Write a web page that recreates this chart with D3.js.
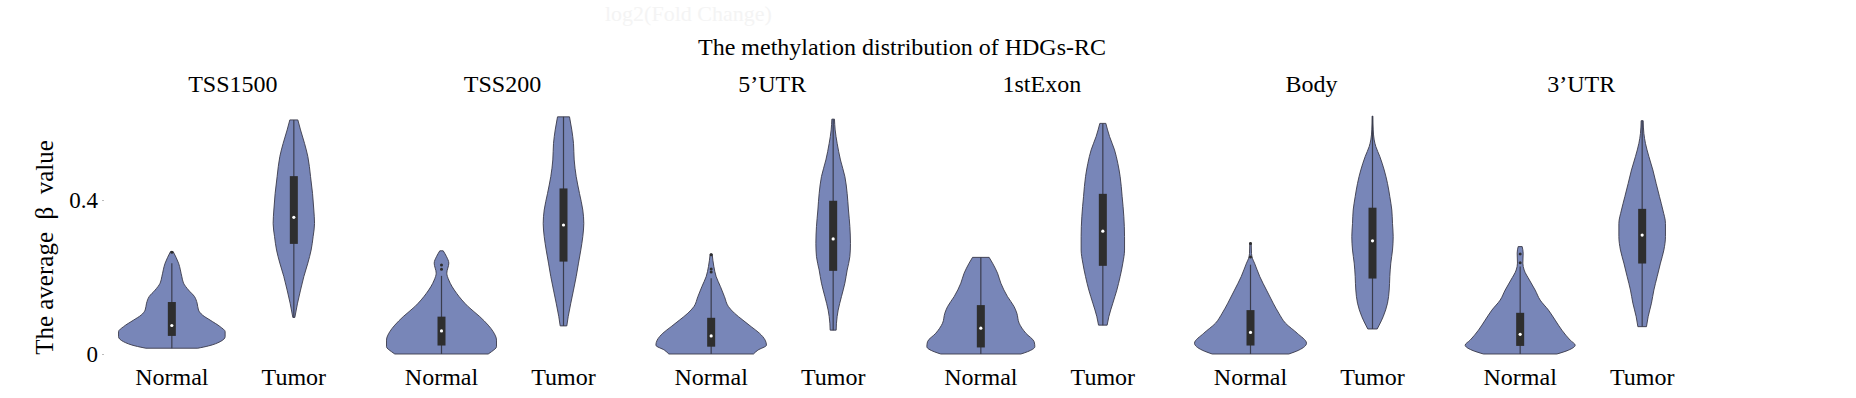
<!DOCTYPE html>
<html>
<head>
<meta charset="utf-8">
<script src="https://cdn.jsdelivr.net/npm/d3@7"></script>
<style>
  html, body { margin: 0; padding: 0; background: #fff; }
  svg { display: block; font-family: "Liberation Serif", "Times New Roman", serif; }
</style>
</head>
<body>
<div id="chart"></div>
<script>
const width = 1856;
const height = 398;

const regions = ["TSS1500", "TSS200", "5’UTR", "1stExon", "Body", "3’UTR"];
const groups = ["Normal", "Tumor"];
const yTicks = [0, 0.4];

// density profiles: [beta value, density]
const normalProfiles = [
    [[0.266,0.13],[0.236,0.67],[0.201,1.0],[0.184,1.17],[0.166,1.67],[0.149,2.27],[0.132,2.53],[0.114,2.67],[0.101,3.07],[0.088,3.83],[0.071,4.83],[0.058,5.33],[0.045,5.33],[0.032,4.83],[0.021,3.67],[0.015,2.6]],
    [[0.268,0.17],[0.253,0.5],[0.236,0.73],[0.210,0.53],[0.192,0.73],[0.158,1.5],[0.123,2.67],[0.097,3.83],[0.075,4.67],[0.058,5.17],[0.036,5.5],[0.019,5.5],[0.006,5.0],[0.0,4.67]],
    [[0.260,0.1],[0.227,0.27],[0.201,0.5],[0.175,0.93],[0.149,1.33],[0.123,1.73],[0.106,2.33],[0.088,3.17],[0.071,4.0],[0.054,4.83],[0.036,5.4],[0.023,5.53],[0.010,4.67],[0.0,4.23]],
    [[0.251,0.83],[0.236,1.17],[0.210,1.67],[0.184,2.0],[0.149,2.67],[0.123,3.33],[0.106,3.6],[0.080,3.83],[0.054,4.5],[0.032,5.33],[0.019,5.4],[0.006,4.67],[0.0,4.0]],
    [[0.289,0.07],[0.261,0.1],[0.248,0.2],[0.236,0.4],[0.201,0.93],[0.166,1.6],[0.132,2.27],[0.106,2.83],[0.080,3.5],[0.054,4.67],[0.028,5.6],[0.010,4.83],[0.0,3.83]],
    [[0.279,0.2],[0.262,0.3],[0.236,0.27],[0.218,0.4],[0.192,0.93],[0.166,1.5],[0.140,2.0],[0.114,2.83],[0.088,3.5],[0.062,4.17],[0.036,5.0],[0.023,5.5],[0.010,4.83],[0.0,3.67]]
];
const tumorProfiles = [
    [[0.608,0.4],[0.582,0.67],[0.547,1.07],[0.513,1.4],[0.461,1.67],[0.417,1.87],[0.374,2.0],[0.339,2.07],[0.305,1.93],[0.270,1.73],[0.236,1.4],[0.201,1.0],[0.166,0.67],[0.132,0.37],[0.095,0.1]],
    [[0.616,0.6],[0.582,0.83],[0.547,1.0],[0.504,1.07],[0.461,1.27],[0.417,1.6],[0.374,1.93],[0.339,2.03],[0.305,1.93],[0.270,1.73],[0.236,1.5],[0.201,1.27],[0.166,1.0],[0.132,0.73],[0.097,0.47],[0.073,0.33]],
    [[0.610,0.13],[0.582,0.2],[0.547,0.4],[0.504,0.73],[0.461,1.17],[0.417,1.4],[0.374,1.53],[0.331,1.67],[0.287,1.73],[0.253,1.67],[0.218,1.4],[0.184,1.17],[0.149,0.83],[0.114,0.5],[0.080,0.33],[0.062,0.3]],
    [[0.599,0.3],[0.565,0.67],[0.530,1.17],[0.495,1.5],[0.461,1.73],[0.409,1.93],[0.357,2.1],[0.305,2.17],[0.270,2.17],[0.236,2.0],[0.201,1.73],[0.166,1.4],[0.132,1.0],[0.097,0.6],[0.075,0.43]],
    [[0.618,0.03],[0.582,0.07],[0.556,0.17],[0.539,0.33],[0.513,0.73],[0.478,1.17],[0.443,1.5],[0.409,1.73],[0.374,1.93],[0.339,2.0],[0.305,2.07],[0.270,2.0],[0.236,1.83],[0.201,1.73],[0.166,1.67],[0.132,1.5],[0.097,1.07],[0.075,0.67],[0.065,0.47]],
    [[0.606,0.1],[0.573,0.17],[0.547,0.33],[0.513,0.67],[0.478,1.07],[0.443,1.4],[0.409,1.73],[0.374,2.07],[0.339,2.33],[0.305,2.33],[0.270,2.17],[0.236,1.83],[0.201,1.5],[0.166,1.17],[0.132,0.93],[0.097,0.6],[0.071,0.43]]
];

// inner box: [q1, median, q3]
const normalBoxes = [[0.047,0.074,0.135],[0.022,0.060,0.097],[0.019,0.047,0.094],[0.017,0.067,0.127],[0.022,0.056,0.114],[0.021,0.051,0.107]];
const tumorBoxes = [[0.286,0.355,0.462],[0.240,0.335,0.430],[0.216,0.299,0.398],[0.229,0.319,0.416],[0.196,0.294,0.380],[0.235,0.309,0.377]];
// whiskers: [low, high]
const normalWhiskers = [[0.015,0.236],[0,0.203],[0,0.197],[0,0.251],[0,0.232],[0,0.227]];
const tumorWhiskers = [[0.095,0.608],[0.073,0.616],[0.062,0.610],[0.075,0.599],[0.065,0.618],[0.071,0.606]];
const normalOutliers = [[0.264],[0.231,0.220],[0.258,0.221,0.213],[],[0.287,0.252],[0.260,0.237]];
const tumorOutliers = [[],[],[],[],[],[]];

const violinFill = "#7886b8";
const darkGray = "#2e2e2e";

const svg = d3.select("#chart").append("svg")
    .attr("width", width)
    .attr("height", height);

// scales
const x = d3.scaleBand().domain(regions).range([98, 1716]);
const xGroup = d3.scalePoint().domain(groups).range([-61, 61]);
const y = d3.scaleLinear().domain([0, 0.4]).range([354, 200]);
const w = d3.scaleLinear().domain([0, 1]).range([0, 10]);

// faint leftover text near the top edge
svg.append("text")
    .attr("x", 605).attr("y", 21)
    .attr("font-size", 22)
    .attr("fill", "#f4f4f4")
    .text("log2(Fold Change)");

// title
svg.append("text")
    .attr("x", 902).attr("y", 55)
    .attr("text-anchor", "middle")
    .attr("font-size", 24)
    .text("The methylation distribution of HDGs-RC");

// y axis
const yAxis = svg.append("g")
    .attr("transform", "translate(104,0)")
    .call(d3.axisLeft(y).tickValues(yTicks).tickSize(2).tickPadding(4)
        .tickFormat(d => d === 0 ? "0" : d3.format(".1f")(d)));
yAxis.select(".domain").remove();
yAxis.selectAll("line").attr("stroke", "#bbb");
yAxis.selectAll("text")
    .attr("font-family", "Liberation Serif, Times New Roman, serif")
    .attr("font-size", 23)
    .attr("fill", "#000");

svg.append("text")
    .attr("transform", `translate(53,${(352 + 143) / 2}) rotate(-90)`)
    .attr("text-anchor", "middle")
    .attr("font-size", 25)
    .attr("xml:space", "preserve")
    .style("white-space", "pre")
    .text("The average  β  value");

const area = d3.area()
    .curve(d3.curveMonotoneY)
    .y(d => y(d[0]));

const series = [
    { group: "Normal", profiles: normalProfiles, boxes: normalBoxes, whiskers: normalWhiskers, outliers: normalOutliers },
    { group: "Tumor", profiles: tumorProfiles, boxes: tumorBoxes, whiskers: tumorWhiskers, outliers: tumorOutliers }
];

regions.forEach((region, i) => {
    const cx0 = x(region) + x.bandwidth() / 2;
    const panel = svg.append("g");

    // region label
    panel.append("text")
        .attr("x", cx0).attr("y", 92)
        .attr("text-anchor", "middle")
        .attr("font-size", 24)
        .text(region);

    series.forEach(s => {
        const cx = cx0 + xGroup(s.group);
        const g = panel.append("g");

        g.append("path")
            .datum(s.profiles[i])
            .attr("d", area.x0(d => cx - w(d[1])).x1(d => cx + w(d[1])))
            .attr("fill", violinFill)
            .attr("stroke", "#3a3a4a")
            .attr("stroke-width", 0.9);

        const [lo, hi] = s.whiskers[i];
        g.append("line")
            .attr("x1", cx).attr("x2", cx)
            .attr("y1", y(lo)).attr("y2", y(hi))
            .attr("stroke", "#3a3d4d")
            .attr("stroke-width", 1.2);

        const [q1, med, q3] = s.boxes[i];
        g.append("rect")
            .attr("x", cx - 4).attr("width", 8)
            .attr("y", y(q3)).attr("height", y(q1) - y(q3))
            .attr("fill", darkGray);

        g.append("circle")
            .attr("cx", cx).attr("cy", y(med)).attr("r", 1.6)
            .attr("fill", "#fff");

        g.selectAll(".outlier")
            .data(s.outliers[i])
            .join("circle")
            .attr("class", "outlier")
            .attr("cx", cx).attr("cy", d => y(d)).attr("r", 1.5)
            .attr("fill", darkGray);

        // group label
        panel.append("text")
            .attr("x", cx).attr("y", 385)
            .attr("text-anchor", "middle")
            .attr("font-size", 24)
            .text(s.group);
    });
});
</script>
</body>
</html>
